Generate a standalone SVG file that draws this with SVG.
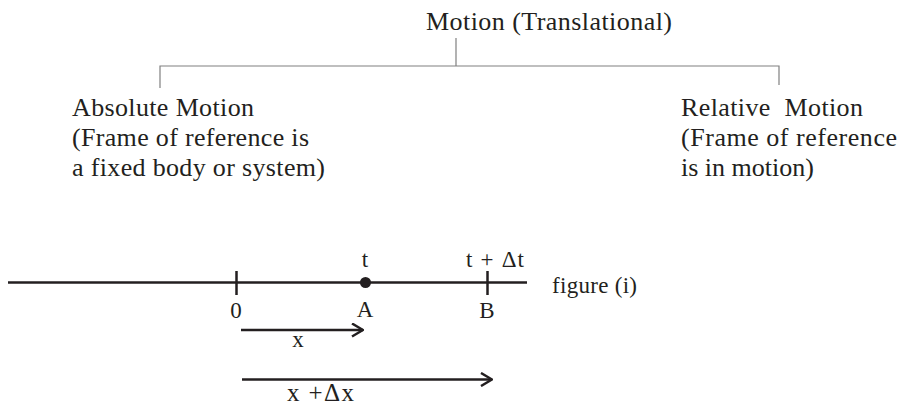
<svg xmlns="http://www.w3.org/2000/svg" width="899" height="405" viewBox="0 0 899 405">
<style>
text{font-family:"Liberation Serif","Times New Roman",serif;fill:#231f20}
.h{font-size:26px}
.s{font-size:23px}
.tree{stroke:#808080;stroke-width:1.2;fill:none}
.ax{stroke:#231f20;stroke-width:2.5;fill:none}
.ar{stroke:#231f20;stroke-width:2.5;fill:none}
</style>
<defs>
<marker id="chev" viewBox="0 0 13 15" refX="12" refY="7.5" markerWidth="13" markerHeight="15" markerUnits="userSpaceOnUse" orient="auto">
<path d="M1,1 L12,7.5 L1,14" fill="none" stroke="#231f20" stroke-width="2.5"/>
</marker>
</defs>
<g id="connectors">
<path class="tree" d="M456,38 V66 M160,88 V66 H779 V85"/>
</g>
<g id="root">
<text class="h" x="426" y="30" textLength="246">Motion (Translational)</text>
</g>
<g id="absolute">
<text class="h" x="72" y="116" textLength="182">Absolute Motion</text>
<text class="h" x="72" y="146" textLength="237">(Frame of reference is</text>
<text class="h" x="72" y="176" textLength="253">a fixed body or system)</text>
</g>
<g id="relative">
<text class="h" x="681" y="116" xml:space="preserve" textLength="182">Relative  Motion</text>
<text class="h" x="681" y="146" textLength="216">(Frame of reference</text>
<text class="h" x="681" y="176">is in motion)</text>
</g>
<g id="figure">
<line class="ax" x1="8" y1="282.5" x2="527" y2="282.5"/>
<line class="ax" x1="236.5" y1="271" x2="236.5" y2="295"/>
<line class="ax" x1="487.5" y1="271" x2="487.5" y2="295"/>
<circle cx="365.5" cy="282.5" r="5.5" fill="#231f20"/>
<text class="s" x="236" y="318" text-anchor="middle">0</text>
<text class="s" x="365" y="267" text-anchor="middle">t</text>
<text class="s" x="365" y="317" text-anchor="middle">A</text>
<text class="s" x="487" y="318" text-anchor="middle">B</text>
<text class="s" x="466" y="267" textLength="58">t + Δt</text>
<text class="s" x="552" y="293" textLength="85">figure (i)</text>
<line class="ar" x1="241" y1="330" x2="363" y2="330" marker-end="url(#chev)"/>
<text class="s" x="298" y="347" text-anchor="middle">x</text>
<line class="ar" x1="242" y1="379.5" x2="492" y2="379.5" marker-end="url(#chev)"/>
<text x="287" y="401" style="font-size:25px" textLength="67">x +Δx</text>
</g>
</svg>
